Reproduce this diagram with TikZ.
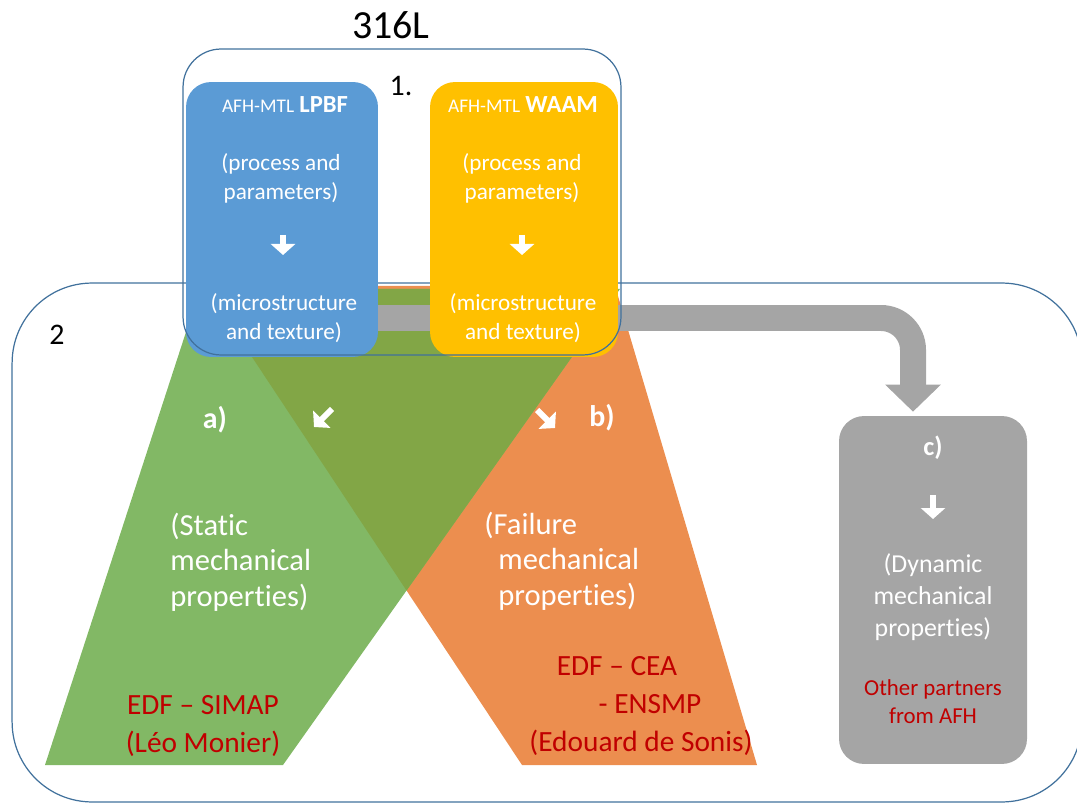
\documentclass[tikz,border=0pt]{standalone}
\usepackage{fontspec}
\setmainfont{Carlito}[Ligatures={TeX,NoCommon}]
\usetikzlibrary{arrows.meta}
\definecolor{lpbfblue}{HTML}{5B9BD5}
\definecolor{waamyellow}{HTML}{FFC000}
\definecolor{staticgreen}{HTML}{82B865}
\definecolor{overlapgreen}{HTML}{82A646}
\definecolor{failorange}{HTML}{EC8E4F}
\definecolor{dyngray}{HTML}{A5A5A5}
\definecolor{frameblue}{HTML}{41719C}
\definecolor{partnerred}{HTML}{C00000}
\def\staticfield{(200,289) -- (620,289) -- (283,765) -- (45,765) -- cycle}
\def\failfield{(205,286) -- (615,286) -- (757,765) -- (522,765) -- cycle}

\begin{document}
\begin{tikzpicture}[x=0.02cm,y=-0.02cm]
\tikzstyle{frame}=[draw=frameblue,line width=0.7pt,inner sep=0];
\tikzstyle{procbox}=[rounded corners=0.5cm,minimum height=5.5cm,inner sep=0];
\tikzstyle{boxtext}=[text=white,align=center,inner sep=0,font=\fontsize{13.2}{16.5}\selectfont];
\tikzstyle{bigtext}=[text=white,align=left,anchor=west,inner sep=0,font=\fontsize{17.4}{20.2}\selectfont];
\tikzstyle{tag}=[text=white,inner sep=0,font=\fontsize{17}{20}\selectfont\bfseries];
\tikzstyle{partner}=[text=partnerred,align=center,inner sep=0,font=\fontsize{16.7}{21.5}\selectfont];
\tikzstyle{glyph}=[white,line width=0.12cm,-{Triangle[length=0.22cm,width=0.48cm]}];
\useasboundingbox (0,0) rectangle (1077,803);

% frame 2
\node[frame,rounded corners=1.6cm,minimum width=21.4cm,minimum height=10.38cm] (stage2) at (547,542.5) {};
\node[font=\fontsize{17}{20}\selectfont] (two) at (57,335) {2};

% a) and b)
\fill[failorange] \failfield;
\fill[staticgreen] \staticfield;
\begin{scope}
\clip \failfield;
\fill[overlapgreen] \staticfield;
\end{scope}

% c)
\node[procbox,fill=dyngray,minimum width=3.76cm,minimum height=6.96cm] (dyn) at (933,590) {};
\coordinate (bar) at (283,318);
\draw[dyngray,line width=0.52cm,rounded corners=0.64cm,-{Triangle[length=0.54cm,width=1.08cm]}] (bar) -| ([xshift=-0.4cm,yshift=0.08cm]dyn.north);

% frame 1
\node[procbox,fill=lpbfblue,minimum width=3.84cm] (lpbf) at (282,219.5) {};
\node[procbox,fill=waamyellow,minimum width=3.76cm] (waam) at (524,219.5) {};
\node[frame,rounded corners=0.76cm,minimum width=8.76cm,minimum height=6.12cm] (stage1) at (402,202) {};

\node[font=\fontsize{22.7}{27}\selectfont] (alloy) at (391,25) {316L};
\node[font=\fontsize{17}{20}\selectfont] (one) at (401,86) {1.};

\node[boxtext] (lpbftitle) at (285,105) {{\fontsize{11}{13}\selectfont AFH-MTL} {\fontsize{14}{16}\selectfont\bfseries LPBF}};
\node[boxtext] (lpbfproc) at (281,178) {(process and\\parameters)};
\draw[glyph] (283,235) -- (283,255);
\node[boxtext] (lpbfmicro) at (284,318) {(microstructure\\and texture)};

\node[boxtext] (waamtitle) at (523,105) {{\fontsize{11}{13}\selectfont AFH-MTL} {\fontsize{14}{16}\selectfont\bfseries WAAM}};
\node[boxtext] (waamproc) at (522,178) {(process and\\parameters)};
\draw[glyph] (522,235) -- (522,255);
\node[boxtext] (waammicro) at (523,318) {(microstructure\\and texture)};

% a)
\node[tag] (afield) at (215,420) {a)};
\draw[glyph] (332,409) -- (314,427);
\node[bigtext] (static) at (170,562) {(Static\\mechanical\\properties)};
\node[partner] (simap) at (203,726) {EDF – SIMAP\\(Léo Monier)};

% b)
\draw[glyph] (537,410) -- (555,428);
\node[tag] (bfield) at (602,418) {b)};
\node[bigtext] (failure) at (498,561) {\hspace*{-0.28cm}(Failure\\mechanical\\properties)};
\node[partner] (ensmp) at (641,706) {EDF – CEA\hspace*{0.96cm}\\\hspace*{0.36cm}- ENSMP\\(Edouard de Sonis)};

% c)
\node[tag,font=\fontsize{15}{18}\selectfont\bfseries] (cfield) at (933,448) {c)};
\draw[glyph] (933,495) -- (933,519);
\node[boxtext,font=\fontsize{14.7}{18.4}\selectfont] (dynprops) at (933,597) {(Dynamic\\mechanical\\properties)};
\node[partner,font=\fontsize{13}{16}\selectfont] (others) at (933,702) {Other partners\\from AFH};
\end{tikzpicture}
\end{document}
